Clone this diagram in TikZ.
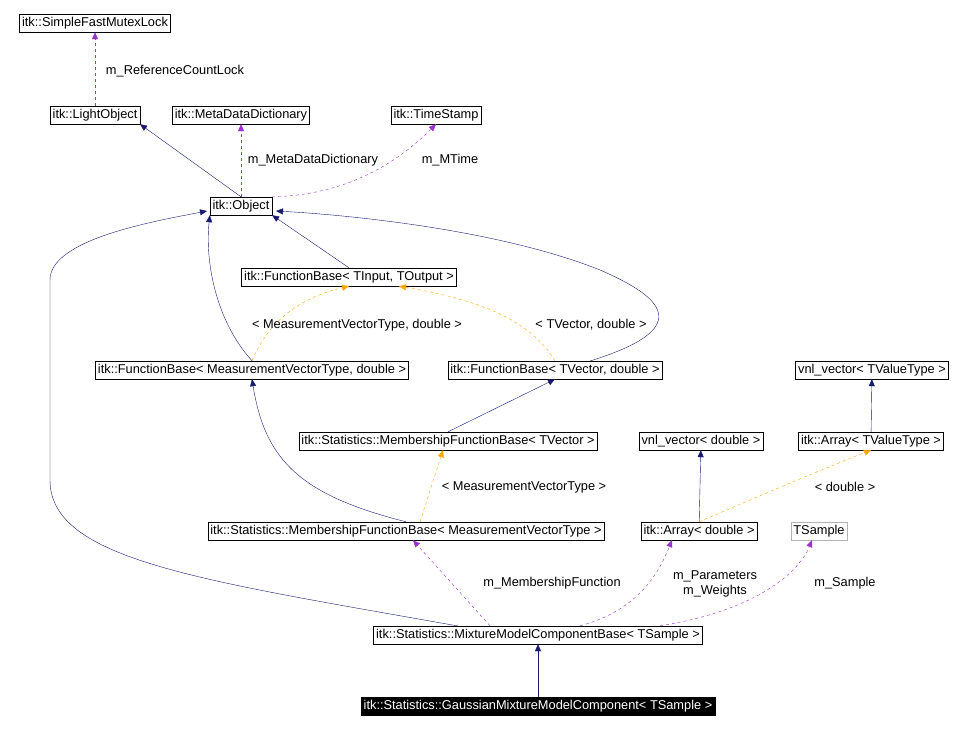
\documentclass[tikz,border=0pt]{standalone}
\usepackage{fontspec}
\setmainfont{Liberation Sans}
\usetikzlibrary{arrows.meta, positioning}
\definecolor{edgeblue}{HTML}{191970}
\definecolor{edgepurple}{HTML}{9A32CD}
\definecolor{edgeorange}{HTML}{FFA500}
\begin{document}
\begin{tikzpicture}[x=1pt, y=-1pt,
    every node/.style={font=\fontsize{12.8}{14.5}\selectfont},
    cls/.style={draw=black, fill=white, inner xsep=2.5pt, inner ysep=0pt, minimum height=18pt},
    lbl/.style={align=center, text=black},
    inh/.style={-{Triangle[length=7pt,width=6pt,fill=edgeblue]}, color=edgeblue},
    use/.style={-{Triangle[length=7pt,width=6pt,fill=edgepurple]}, color=edgepurple, dashed},
    tpl/.style={-{Triangle[length=7pt,width=6pt,fill=edgeorange]}, color=edgeorange, dashed}
  ]
  \useasboundingbox (0,0) rectangle (970,731);

  % Kanten
  \draw[inh] (458,626) .. controls (200,580) and (50,560) .. (50,480)
     -- (50,280) .. controls (50,240) and (150,222) .. (207,211);
  \draw[inh] (590,361) .. controls (690,330) and (670,300) .. (600,270)
     .. controls (500,230) and (350,215) .. (276,211);

  % Klassen
  \node[cls] (mutex) at (95,23) {itk::SimpleFastMutexLock};
  \node[cls] (light) at (95,115) {itk::LightObject};
  \node[cls] (meta) at (241,115) {itk::MetaDataDictionary};
  \node[cls] (stamp) at (436,115) {itk::TimeStamp};
  \node[cls] (object) at (241,206) {itk::Object};
  \node[cls] (fbin) at (349,277) {itk::FunctionBase< TInput, TOutput >};
  \node[cls] (fbmvt) at (252,370) {itk::FunctionBase< MeasurementVectorType, double >};
  \node[cls] (fbvec) at (555,370) {itk::FunctionBase< TVector, double >};
  \node[cls] (vnlt) at (872,370) {vnl\_vector< TValueType >};
  \node[cls] (mfbvec) at (448,441) {itk::Statistics::MembershipFunctionBase< TVector >};
  \node[cls] (vnld) at (701,441) {vnl\_vector< double >};
  \node[cls] (arrt) at (871,441) {itk::Array< TValueType >};
  \node[cls] (mfbmvt) at (406,531) {itk::Statistics::MembershipFunctionBase< MeasurementVectorType >};
  \node[cls] (arrd) at (699,531) {itk::Array< double >};
  \node[cls, draw=gray!60] (tsample) at (819,531) {TSample};
  \node[cls] (mmcb) at (538,635) {itk::Statistics::MixtureModelComponentBase< TSample >};
  \node[cls, fill=black, text=white] (gauss) at (538,706) {itk::Statistics::GaussianMixtureModelComponent< TSample >};

  \draw[use] (light) -- (mutex);
  \node[lbl] (lrc) at (175,71) {m\_ReferenceCountLock};
  \draw[inh] (object.north) -- (light.south east);
  \draw[use] (object) -- (meta);
  \node[lbl] (lmd) at (313,160) {m\_MetaDataDictionary};
  \draw[use] (object.north east) .. controls (350,195) and (400,160) .. (stamp.south);
  \node[lbl] (mtime) at (450,160) {m\_MTime};
  \draw[inh] (fbin.north) -- (object.south east);
  \draw[inh] (fbmvt.north) .. controls (215,320) and (205,260) .. (object.south west);
  \draw[tpl] (fbmvt.north) .. controls (265,330) and (290,300) .. (fbin.south);
  \node[lbl] (lmvt) at (357,325) {< MeasurementVectorType, double >};
  \draw[tpl] (fbvec.north) .. controls (530,320) and (480,300) .. ([xshift=50pt]fbin.south);
  \node[lbl] (lvec) at (591,325) {< TVector, double >};
  \draw[inh] (mfbvec.north) -- (fbvec.south);
  \draw[inh] (mfbmvt.north) .. controls (300,495) and (265,460) .. (fbmvt.south);
  \draw[tpl] ([xshift=14pt]mfbmvt.north) -- ([xshift=-5pt]mfbvec.south);
  \node[lbl] (lmv) at (524,487) {< MeasurementVectorType >};
  \draw[inh] (arrt) -- (vnlt);
  \draw[inh] (arrd) -- (vnld);
  \draw[tpl] (arrd.north) .. controls (750,500) and (820,470) .. (arrt.south);
  \node[lbl] (ldbl) at (845,487) {< double >};
  \draw[use] ([xshift=-48pt]mmcb.north) -- ([xshift=7pt]mfbmvt.south);
  \node[lbl] (lmf) at (552,583) {m\_MembershipFunction};
  \draw[use] ([xshift=42pt]mmcb.north) .. controls (640,610) and (660,570) .. ([xshift=-27pt]arrd.south);
  \node[lbl] (lpw) at (715,584) {m\_Parameters\\m\_Weights};
  \draw[use] ([xshift=122pt]mmcb.north) .. controls (760,610) and (800,570) .. ([xshift=-7pt]tsample.south);
  \node[lbl] (ls) at (845,583) {m\_Sample};
  \draw[inh] (gauss) -- (mmcb);
\end{tikzpicture}
\end{document}
